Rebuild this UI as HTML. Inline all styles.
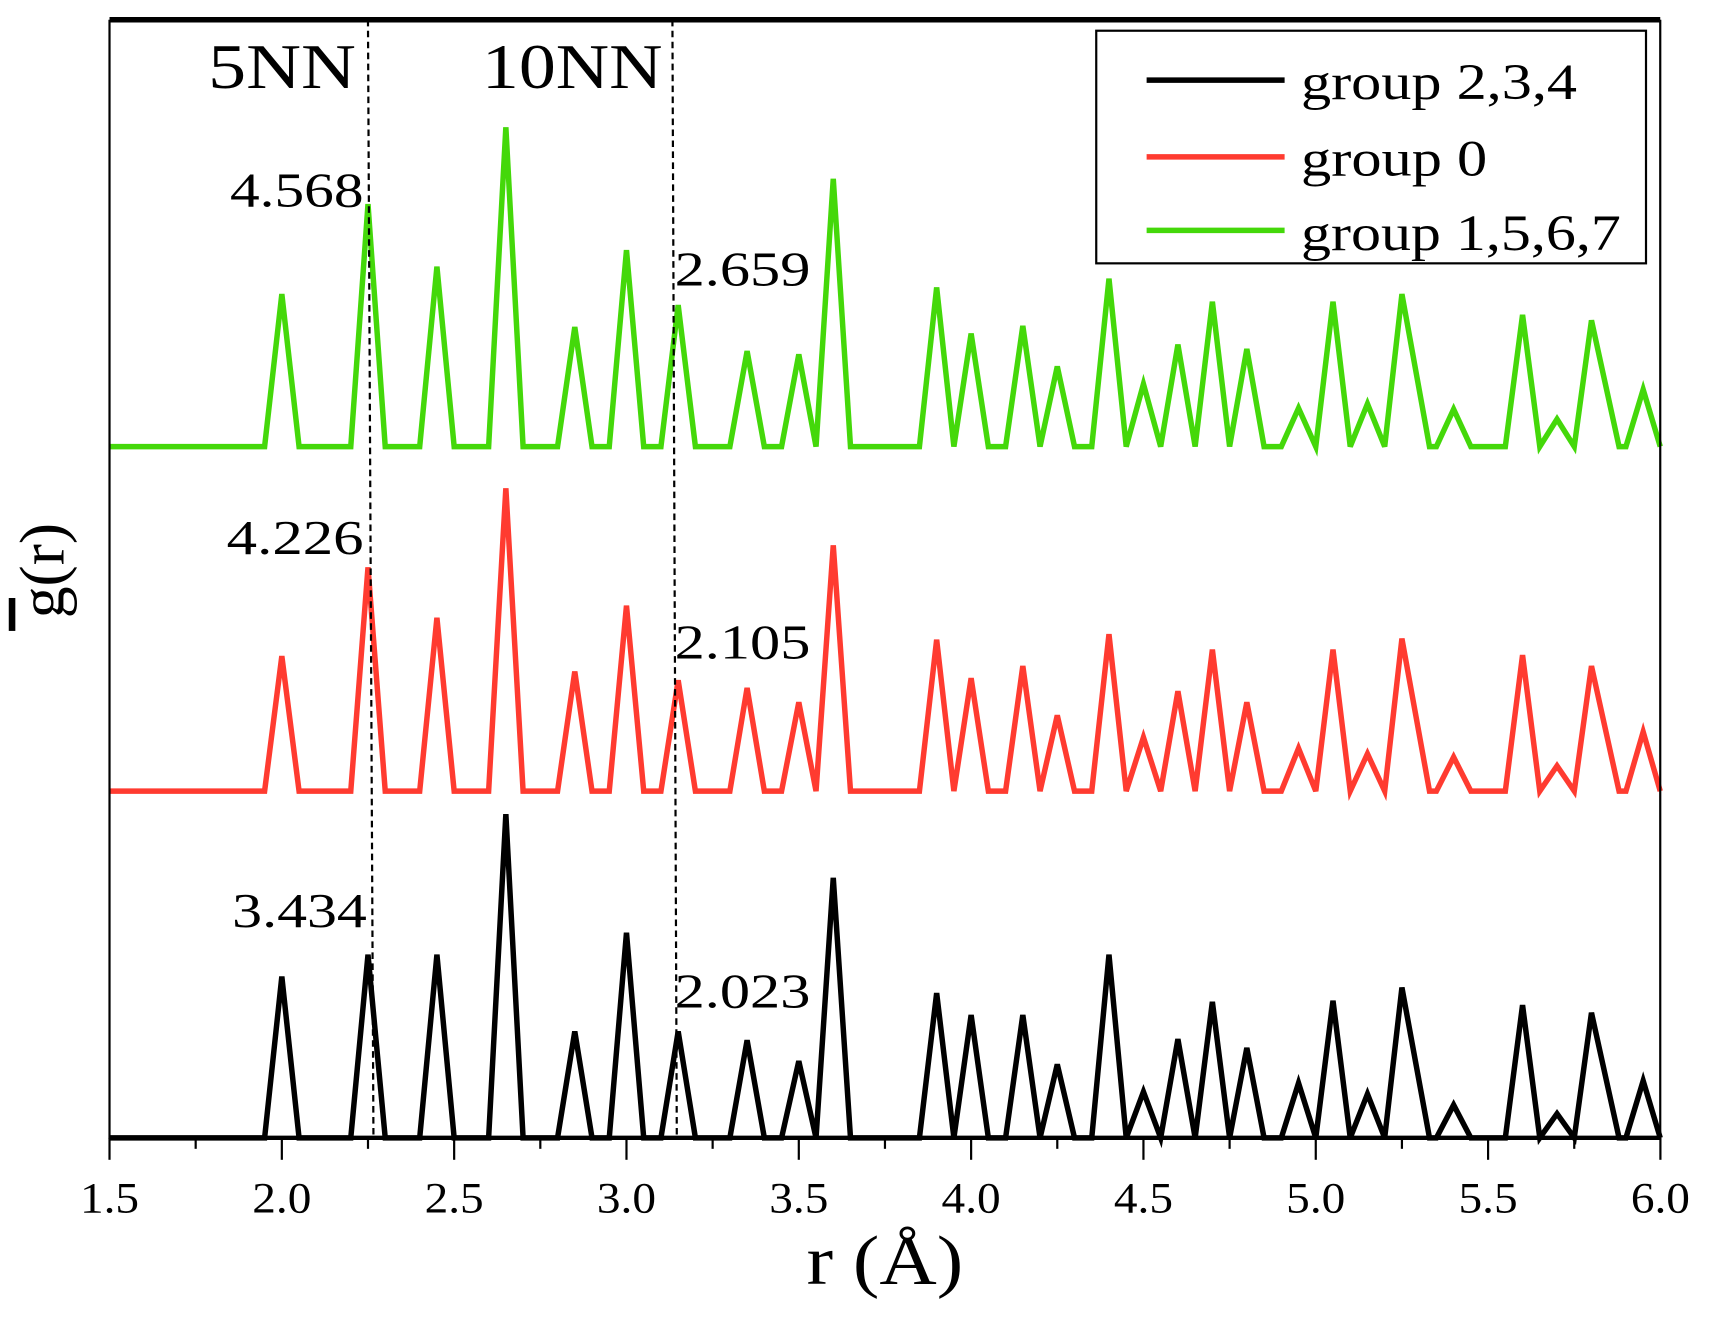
<!DOCTYPE html>
<html><head><meta charset="utf-8"><style>
html,body{margin:0;padding:0;background:#fff;}
svg{display:block;}
text{font-family:"Liberation Serif",serif;fill:#000;}
</style></head><body>
<svg id="s" width="1715" height="1320" viewBox="0 0 1566 1203" preserveAspectRatio="none" xmlns="http://www.w3.org/2000/svg">
<rect x="0" y="0" width="1566" height="1205" fill="#fff"/>
<g id="series"></g>
<line x1="100" y1="18" x2="1516" y2="18" stroke="#000" stroke-width="5"/>
<line x1="100" y1="18" x2="100" y2="1038" stroke="#000" stroke-width="2"/>
<line x1="1516" y1="18" x2="1516" y2="1038" stroke="#000" stroke-width="2"/>
<line x1="100" y1="1037" x2="1516" y2="1037" stroke="#000" stroke-width="4"/>
<g id="ticks" stroke="#000" stroke-width="2"></g>
<line x1="336" y1="18" x2="341" y2="1037" stroke="#000" stroke-width="2" stroke-dasharray="6,4"/>
<line x1="614" y1="18" x2="618" y2="1037" stroke="#000" stroke-width="2" stroke-dasharray="6,4"/>
<g lengthAdjust="spacingAndGlyphs">
<text x="190" y="80" font-size="58" textLength="135" lengthAdjust="spacingAndGlyphs">5NN</text>
<text x="440" y="80" font-size="58" textLength="165" lengthAdjust="spacingAndGlyphs">10NN</text>
<text x="210" y="188" font-size="44" textLength="122" lengthAdjust="spacingAndGlyphs">4.568</text>
<text x="207" y="505" font-size="44" textLength="125" lengthAdjust="spacingAndGlyphs">4.226</text>
<text x="212" y="845" font-size="44" textLength="123" lengthAdjust="spacingAndGlyphs">3.434</text>
<text x="616" y="260" font-size="44" textLength="124" lengthAdjust="spacingAndGlyphs">2.659</text>
<text x="616" y="600" font-size="44" textLength="124" lengthAdjust="spacingAndGlyphs">2.105</text>
<text x="616" y="918" font-size="44" textLength="124" lengthAdjust="spacingAndGlyphs">2.023</text>
</g>
<rect x="1001" y="28" width="502" height="212" fill="#fff" stroke="#000" stroke-width="2"/>
<line x1="1047" y1="73" x2="1173" y2="73" stroke="#000" stroke-width="5"/>
<line x1="1047" y1="143" x2="1173" y2="143" stroke="#ff3b30" stroke-width="5"/>
<line x1="1047" y1="210" x2="1173" y2="210" stroke="#44d80a" stroke-width="5"/>
<text x="1188" y="90" font-size="46" textLength="252" lengthAdjust="spacingAndGlyphs">group 2,3,4</text>
<text x="1188" y="160" font-size="46" textLength="170" lengthAdjust="spacingAndGlyphs">group 0</text>
<text x="1188" y="228" font-size="46" textLength="292" lengthAdjust="spacingAndGlyphs">group 1,5,6,7</text>
<g id="tl" font-size="40" text-anchor="middle"></g>
<text x="808" y="1170" font-size="64" text-anchor="middle" textLength="143" lengthAdjust="spacingAndGlyphs">r (Å)</text>
<g transform="translate(58,520) rotate(-90)"><text x="0" y="0" font-size="58" text-anchor="middle">g(r)</text></g>
<rect x="8" y="545" width="6" height="30" fill="#000"/>
</svg>
<script>
var NS="http://www.w3.org/2000/svg";
function X(r){return 100+(r-1.5)*314.7;}
var rs=[2.0,2.25,2.45,2.65,2.85,3.0,3.15,3.35,3.5,3.6,3.9,4.0,4.15,4.25,4.4,4.5,4.6,4.7,4.8,4.95,5.05,5.15,5.25,5.4,5.6,5.7,5.8,5.95];
var black=[890,870,870,742,940,850,940,948,967,800,905,925,925,970,870,995,947,913,955,987,912,997,900,1007,916,1015,923,985];
var red=[598,517,563,445,612,552,620,627,640,497,583,618,607,652,578,672,630,592,640,682,592,687,582,690,597,698,607,667];
var green=[268,186,243,116,298,228,278,320,323,163,262,304,297,334,254,350,314,275,318,372,275,368,268,373,287,382,292,355];
function path(h,base,col){
  var d="M"+X(1.5)+","+base;
  for(var i=0;i<rs.length;i++){
    var r=rs[i];
    var lw=i>0?Math.min(0.05,(r-rs[i-1])/2):0.05;
    var rw=i<rs.length-1?Math.min(0.05,(rs[i+1]-r)/2):0.05;
    if(r===5.25)rw=0.08; if(r===5.8)rw=0.08;
    d+=" L"+X(r-lw)+","+base+" L"+X(r)+","+h[i]+" L"+Math.min(X(r+rw),1516)+","+base;
  }
  d+=" L1516,"+base;
  var p=document.createElementNS(NS,"path");
  p.setAttribute("d",d);p.setAttribute("fill","none");p.setAttribute("stroke",col);
  p.setAttribute("stroke-width","5");p.setAttribute("stroke-linejoin","miter");
  document.getElementById("series").appendChild(p);
}
path(green,407,"#44d80a");path(red,721,"#ff3b30");path(black,1037,"#000");
var t=document.getElementById("ticks"),tl=document.getElementById("tl");
for(var k=0;k<=18;k++){
  var r=1.5+k*0.25,x=X(r),maj=k%2==0;
  var l=document.createElementNS(NS,"line");
  l.setAttribute("x1",x);l.setAttribute("x2",x);l.setAttribute("y1",1037);l.setAttribute("y2",maj?1057:1047);
  t.appendChild(l);
  if(maj){var tx=document.createElementNS(NS,"text");tx.setAttribute("x",x);tx.setAttribute("y",1105);tx.setAttribute("textLength","54");tx.setAttribute("lengthAdjust","spacingAndGlyphs");tx.textContent=r.toFixed(1);tl.appendChild(tx);}
}
</script>
</body></html>
